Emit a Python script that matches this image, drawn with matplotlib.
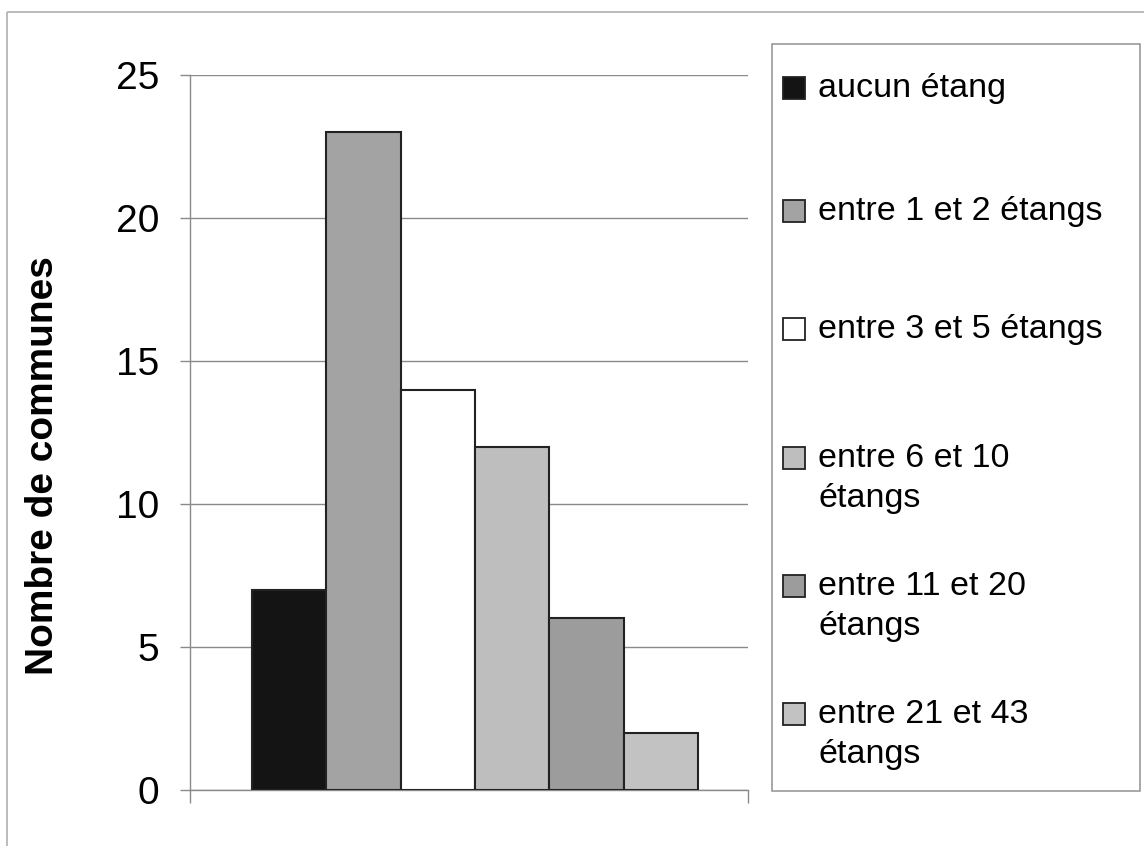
import matplotlib
matplotlib.use('Agg')
import matplotlib.pyplot as plt
from matplotlib.patches import Rectangle

# Données
CATEGORIES = ['aucun étang', 'entre 1 et 2 étangs', 'entre 3 et 5 étangs',
              'entre 6 et 10\nétangs', 'entre 11 et 20\nétangs',
              'entre 21 et 43\nétangs']
COUNTS = [7, 23, 14, 12, 6, 2]
Y_TICKS = [0, 5, 10, 15, 20, 25]
Y_LABEL = 'Nombre de communes'

COLORS = ['#141414', '#a3a3a3', '#ffffff', '#bebebe', '#9c9c9c', '#c2c2c2']
W, H = 1144, 846

plt.rcParams['font.family'] = ['Liberation Sans', 'DejaVu Sans']

fig = plt.figure(figsize=(W / 100, H / 100), dpi=100)

# Calque en pixels pour le cadre et la légende
bg = fig.add_axes([0, 0, 1, 1])
bg.set_xlim(0, W)
bg.set_ylim(H, 0)
bg.axis('off')
bg.add_patch(Rectangle((7, 12), W + 20, H + 20, fill=False,
                       edgecolor='#b0b0b0', lw=1.2))

# Graphique
ax = fig.add_axes([190 / W, 1 - 790 / H, (748 - 190) / W, (790 - 75) / H])
xs = range(len(COUNTS))
ax.bar(xs, COUNTS, width=1.0, color=COLORS, edgecolor='#222222',
       linewidth=1.5, zorder=3)
ax.set_xlim(-1.33, 6.17)
ax.set_ylim(0, 25)
ax.set_yticks(Y_TICKS)
ax.yaxis.grid(True, color='#8a8a8a', linewidth=1.0, zorder=0)
ax.set_xticks([-1.33, 6.17])
ax.set_xticklabels([])
for s in ['top', 'right']:
    ax.spines[s].set_visible(False)
for s in ['left', 'bottom']:
    ax.spines[s].set_color('#8a8a8a')
    ax.spines[s].set_linewidth(1.0)
ax.tick_params(axis='y', direction='out', length=7.2, width=1.0,
               color='#8a8a8a', pad=15, labelsize=28)
ax.tick_params(axis='x', direction='out', length=9, width=1.0,
               color='#8a8a8a')
ax.set_ylabel(Y_LABEL, fontsize=28, fontweight='bold')
ax.yaxis.set_label_coords(-0.232, 0.454)

# Légende
bg.add_patch(Rectangle((772, 44), 368, 747, fill=False,
                       edgecolor='#9a9a9a', lw=1.2))
baselines = [97, 220, 338, 467, 595, 723]
line_gap = 40
for lab, col, y in zip(CATEGORIES, COLORS, baselines):
    bg.add_patch(Rectangle((783, y - 20), 22, 22, facecolor=col,
                           edgecolor='#222222', lw=1.3))
    for i, line in enumerate(lab.split('\n')):
        bg.text(818, y + i * line_gap, line, fontsize=24.5, ha='left',
                va='baseline')

fig.savefig('out.png', dpi=100)
